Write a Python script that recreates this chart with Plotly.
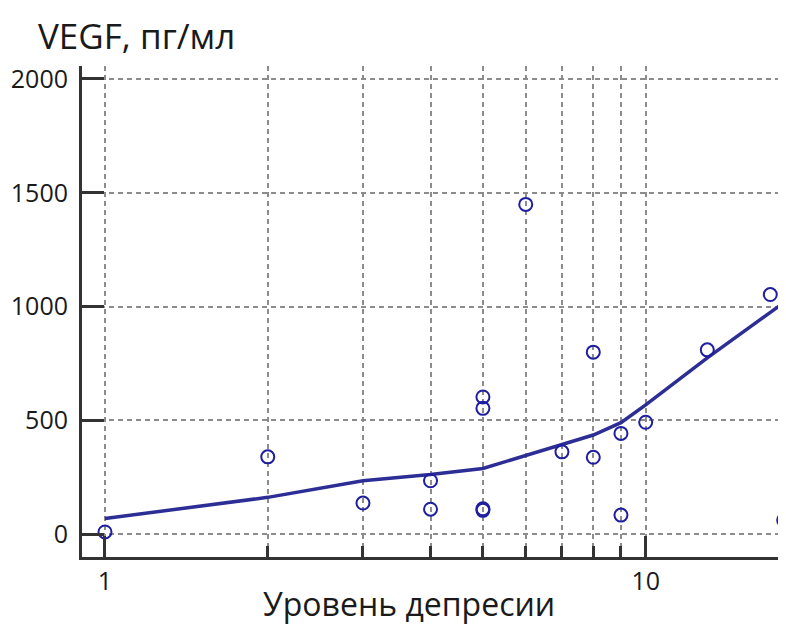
import plotly.graph_objects as go

# Data
depression = [1, 2, 3, 4, 4, 5, 5, 5, 5, 6, 7, 8, 8, 9, 9, 10, 13, 17, 18]
vegf = [10, 340, 137, 235, 110, 603, 553, 112, 105, 1449, 362, 338, 800, 443, 84, 492, 810, 1053, 62]

fit_x = [1, 2, 3, 4, 5, 6, 7, 8, 9, 10, 13, 18]
fit_y = [69, 162, 235, 262, 289, 345, 395, 436, 490, 568, 775, 1017]

y_ticks = [0, 500, 1000, 1500, 2000]
x_major = [1, 10]
x_minor = [2, 3, 4, 5, 6, 7, 8, 9]

FONT = "Open Sans"
BLUE = "rgb(30,30,160)"

fig = go.Figure()
fig.add_trace(go.Scatter(x=fit_x, y=fit_y, mode="lines",
                         line=dict(color="rgb(45,45,150)", width=3.5),
                         hoverinfo="skip", showlegend=False))
fig.add_trace(go.Scatter(x=depression, y=vegf, mode="markers",
                         marker=dict(symbol="circle-open", size=13,
                                     color=BLUE, line=dict(width=2, color=BLUE)),
                         showlegend=False))

grid = dict(gridcolor="#8c8c8c", gridwidth=1.6, griddash="5px,4px")

# the page body has an 8px default margin, so the figure is 8px smaller
fig.update_layout(
    width=778, height=618,
    margin=dict(l=74, r=0, t=58, b=69),
    paper_bgcolor="white", plot_bgcolor="white",
    font=dict(family=FONT, color="#1a1a1a"),
    xaxis=dict(type="log", range=[-0.0425, 1.2595], automargin=False,
               tickmode="array", tickvals=x_major, ticktext=["1", "10"],
               ticks="inside", ticklen=21, tickwidth=3, tickcolor="#333",
               showline=True, linewidth=3, linecolor="#333",
               showgrid=True, zeroline=False,
               tickfont=dict(size=25, family=FONT),
               minor=dict(tickmode="array", tickvals=x_minor, ticks="inside",
                          ticklen=11, tickwidth=3, tickcolor="#333",
                          showgrid=True, **grid),
               **grid),
    yaxis=dict(range=[-100, 2057], automargin=False,
               tickmode="array", tickvals=y_ticks,
               ticks="inside", ticklen=22, tickwidth=3, tickcolor="#333",
               showline=True, linewidth=3, linecolor="#333",
               showgrid=True, zeroline=False, ticklabelstandoff=6,
               tickfont=dict(size=25, family=FONT),
               **grid),
    annotations=[
        dict(text="VEGF, пг/мл", xref="paper", yref="paper",
             x=(36 - 82) / 704, y=(557 - 35) / 491,
             xanchor="left", yanchor="middle", showarrow=False,
             font=dict(size=35, family=FONT, color="#1a1a1a")),
        dict(text="Уровень депресии", xref="paper", yref="paper",
             x=(409 - 82) / 704, y=(557 - 603) / 491,
             xanchor="center", yanchor="middle", showarrow=False,
             borderpad=0,
             font=dict(size=32, family=FONT, color="#1a1a1a")),
    ],
)

fig.write_html("out.html")
